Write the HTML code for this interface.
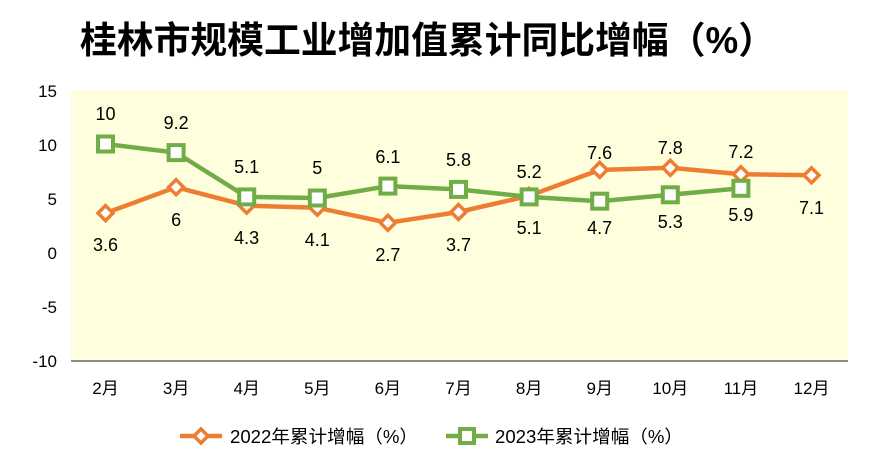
<!DOCTYPE html>
<html><head><meta charset="utf-8"><style>
body{margin:0;background:#fff;}
svg{display:block;font-family:"Liberation Sans","Noto Sans CJK SC",sans-serif;}
</style></head><body>
<svg width="870" height="468" viewBox="0 0 870 468" xmlns="http://www.w3.org/2000/svg">
<rect width="870" height="468" fill="#fff"/>
<text x="80" y="53" font-size="37" font-weight="bold" fill="#000" textLength="695" lengthAdjust="spacingAndGlyphs">桂林市规模工业增加值累计同比增幅（%）</text>
<rect x="71" y="90" width="777" height="271" fill="#FFFFDD"/>
<line x1="71" y1="361" x2="848" y2="361" stroke="#8c8c8c" stroke-width="2"/>
<g font-size="17" fill="#000" text-anchor="end">
<text x="57" y="97">15</text><text x="57" y="151">10</text><text x="57" y="205">5</text>
<text x="57" y="259">0</text><text x="57" y="313">-5</text><text x="57" y="367">-10</text>
</g>
<g font-size="17" fill="#000" text-anchor="middle">
<text x="105.5" y="394">2月</text><text x="176.1" y="394">3月</text><text x="246.7" y="394">4月</text>
<text x="317.3" y="394">5月</text><text x="387.9" y="394">6月</text><text x="458.5" y="394">7月</text>
<text x="529.1" y="394">8月</text><text x="599.7" y="394">9月</text><text x="670.3" y="394">10月</text>
<text x="740.9" y="394">11月</text><text x="811.5" y="394">12月</text>
</g>
<polyline fill="none" stroke="#ED7D31" stroke-width="4.5" stroke-linejoin="round" points="105.5,213.1 176.1,187.2 246.7,205.6 317.3,207.7 387.9,222.8 458.5,212.0 529.1,195.8 599.7,169.9 670.3,167.8 740.9,174.2 811.5,175.3"/>
<g fill="#fff" stroke="#ED7D31" stroke-width="3.5">
<polygon points="105.5,205.6 113,213.1 105.5,220.6 98,213.1"/>
<polygon points="176.1,179.7 183.6,187.2 176.1,194.7 168.6,187.2"/>
<polygon points="246.7,198.1 254.2,205.6 246.7,213.1 239.2,205.6"/>
<polygon points="317.3,200.2 324.8,207.7 317.3,215.2 309.8,207.7"/>
<polygon points="387.9,215.3 395.4,222.8 387.9,230.3 380.4,222.8"/>
<polygon points="458.5,204.5 466,212 458.5,219.5 451,212"/>
<polygon points="529.1,188.3 536.6,195.8 529.1,203.3 521.6,195.8"/>
<polygon points="599.7,162.4 607.2,169.9 599.7,177.4 592.2,169.9"/>
<polygon points="670.3,160.3 677.8,167.8 670.3,175.3 662.8,167.8"/>
<polygon points="740.9,166.7 748.4,174.2 740.9,181.7 733.4,174.2"/>
<polygon points="811.5,167.8 819,175.3 811.5,182.8 804,175.3"/>
</g>
<polyline fill="none" stroke="#70AD47" stroke-width="4.5" stroke-linejoin="round" points="105.5,144 176.1,152.6 246.7,196.9 317.3,198 387.9,186.1 458.5,189.4 529.1,196.9 599.7,201.2 670.3,194.8 740.9,188.3"/>
<g fill="#fff" stroke="#70AD47" stroke-width="4">
<rect x="98" y="136.5" width="15" height="15"/>
<rect x="168.6" y="145.1" width="15" height="15"/>
<rect x="239.2" y="189.4" width="15" height="15"/>
<rect x="309.8" y="190.5" width="15" height="15"/>
<rect x="380.4" y="178.6" width="15" height="15"/>
<rect x="451" y="181.9" width="15" height="15"/>
<rect x="521.6" y="189.4" width="15" height="15"/>
<rect x="592.2" y="193.7" width="15" height="15"/>
<rect x="662.8" y="187.3" width="15" height="15"/>
<rect x="733.4" y="180.8" width="15" height="15"/>
</g>
<g font-size="18" fill="#000" text-anchor="middle">
<text x="105.5" y="120">10</text><text x="176.1" y="129">9.2</text><text x="246.7" y="173">5.1</text>
<text x="317.3" y="174">5</text><text x="387.9" y="163">6.1</text><text x="458.5" y="166">5.8</text>
<text x="529.1" y="234">5.1</text><text x="599.7" y="234">4.7</text><text x="670.3" y="228">5.3</text><text x="740.9" y="221">5.9</text>
<text x="105.5" y="251">3.6</text><text x="176.1" y="226">6</text><text x="246.7" y="244">4.3</text>
<text x="317.3" y="246">4.1</text><text x="387.9" y="261">2.7</text><text x="458.5" y="251">3.7</text>
<text x="529.1" y="178">5.2</text><text x="599.7" y="159">7.6</text><text x="670.3" y="154">7.8</text>
<text x="740.9" y="158">7.2</text><text x="811.5" y="214">7.1</text>
</g>
<line x1="180" y1="436" x2="222" y2="436" stroke="#ED7D31" stroke-width="4.5"/>
<polygon points="201,429 208,436 201,443 194,436" fill="#fff" stroke="#ED7D31" stroke-width="3.5"/>
<text x="230" y="443" font-size="18" fill="#000" textLength="188" lengthAdjust="spacingAndGlyphs">2022年累计增幅（%）</text>
<line x1="446" y1="436" x2="488" y2="436" stroke="#70AD47" stroke-width="4.5"/>
<rect x="460" y="429" width="14" height="14" fill="#fff" stroke="#70AD47" stroke-width="4"/>
<text x="495" y="443" font-size="18" fill="#000" textLength="188" lengthAdjust="spacingAndGlyphs">2023年累计增幅（%）</text>
</svg>
</body></html>
